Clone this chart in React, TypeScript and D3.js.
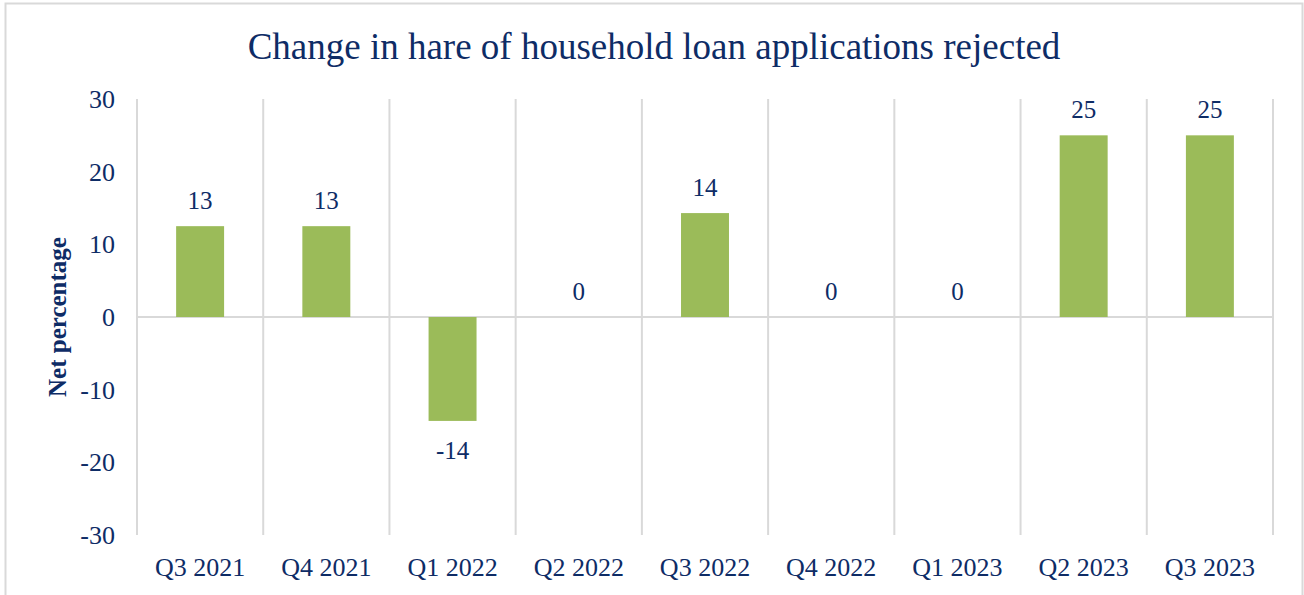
import React, { useEffect, useRef } from 'react';
import * as d3 from 'd3';

const width = 1304,
      height = 595;

const categories = ['Q3 2021', 'Q4 2021', 'Q1 2022', 'Q2 2022', 'Q3 2022', 'Q4 2022', 'Q1 2023', 'Q2 2023', 'Q3 2023'];
const values = [12.5, 12.5, -14.3, 0, 14.3, 0, 0, 25, 25];
const yTicks = [-30, -20, -10, 0, 10, 20, 30];

const navy = '#0E2C66';
const font = '"Liberation Serif", "Times New Roman", serif';

const App = () => {
    const ref = useRef<SVGSVGElement>(null);

    useEffect(() => {
        const svg = d3.select(ref.current);
        svg.html('');

        const margin = { left: 137, right: 31, top: 99, bottom: 60 };

        const x = d3.scaleBand<string>()
            .domain(categories)
            .range([margin.left, width - margin.right])
            .paddingInner(0)
            .paddingOuter(0);

        const y = d3.scaleLinear()
            .domain([-30, 30])
            .range([535, margin.top]);

        // chart frame (bottom is cut off in the original)
        svg.append('path')
            .attr('d', `M5.5,${height} V3.5 H1302.5 V${height}`)
            .attr('fill', 'none')
            .attr('stroke', '#d9d9d9')
            .attr('stroke-width', 2);

        // vertical gridlines at category boundaries
        const bounds = categories.map(c => x(c) as number).concat([width - margin.right]);
        svg.append('g')
            .selectAll('line')
            .data(bounds)
            .enter().append('line')
            .attr('x1', d => d).attr('x2', d => d)
            .attr('y1', y(30)).attr('y2', y(-30))
            .attr('stroke', '#d9d9d9')
            .attr('stroke-width', 2);

        // zero line
        svg.append('line')
            .attr('x1', margin.left).attr('x2', width - margin.right)
            .attr('y1', y(0)).attr('y2', y(0))
            .attr('stroke', '#d9d9d9')
            .attr('stroke-width', 2);

        const bw = x.bandwidth() * 0.38;

        svg.append('g')
            .selectAll('rect')
            .data(values)
            .enter().append('rect')
            .attr('x', (d, i) => (x(categories[i]) as number) + x.bandwidth() / 2 - bw / 2)
            .attr('width', bw)
            .attr('y', d => y(Math.max(0, d)))
            .attr('height', d => Math.abs(y(d) - y(0)))
            .attr('fill', '#9BBB59');

        // data labels
        svg.append('g')
            .selectAll('text')
            .data(values)
            .enter().append('text')
            .attr('x', (d, i) => (x(categories[i]) as number) + x.bandwidth() / 2)
            .attr('y', d => d >= 0 ? y(d) - 17 : y(d) + 38)
            .attr('text-anchor', 'middle')
            .attr('font-family', font)
            .attr('font-size', 25)
            .attr('fill', navy)
            .text(d => String(Math.round(d)));

        // y tick labels
        svg.append('g')
            .selectAll('text')
            .data(yTicks)
            .enter().append('text')
            .attr('x', 115)
            .attr('y', d => y(d) + 9)
            .attr('text-anchor', 'end')
            .attr('font-family', font)
            .attr('font-size', 26)
            .attr('fill', navy)
            .text(d => String(d));

        // x labels
        svg.append('g')
            .selectAll('text')
            .data(categories)
            .enter().append('text')
            .attr('x', d => (x(d) as number) + x.bandwidth() / 2)
            .attr('y', 576)
            .attr('text-anchor', 'middle')
            .attr('font-family', font)
            .attr('font-size', 26)
            .attr('fill', navy)
            .text(d => d);

        // axis title
        svg.append('text')
            .attr('transform', `translate(66,${y(0)}) rotate(-90)`)
            .attr('text-anchor', 'middle')
            .attr('font-family', font)
            .attr('font-size', 25)
            .attr('font-weight', 'bold')
            .attr('fill', navy)
            .text('Net percentage');

        // title
        svg.append('text')
            .attr('x', 654)
            .attr('y', 59)
            .attr('text-anchor', 'middle')
            .attr('font-family', font)
            .attr('font-size', 37)
            .attr('fill', navy)
            .text('Change in hare of household loan applications rejected');
    }, []);

    return (
        <svg
            ref={ref}
            width={width}
            height={height}
            style={{ position: 'absolute', left: 0, top: 0, background: '#fff' }}
        />
    );
};

export default App;
